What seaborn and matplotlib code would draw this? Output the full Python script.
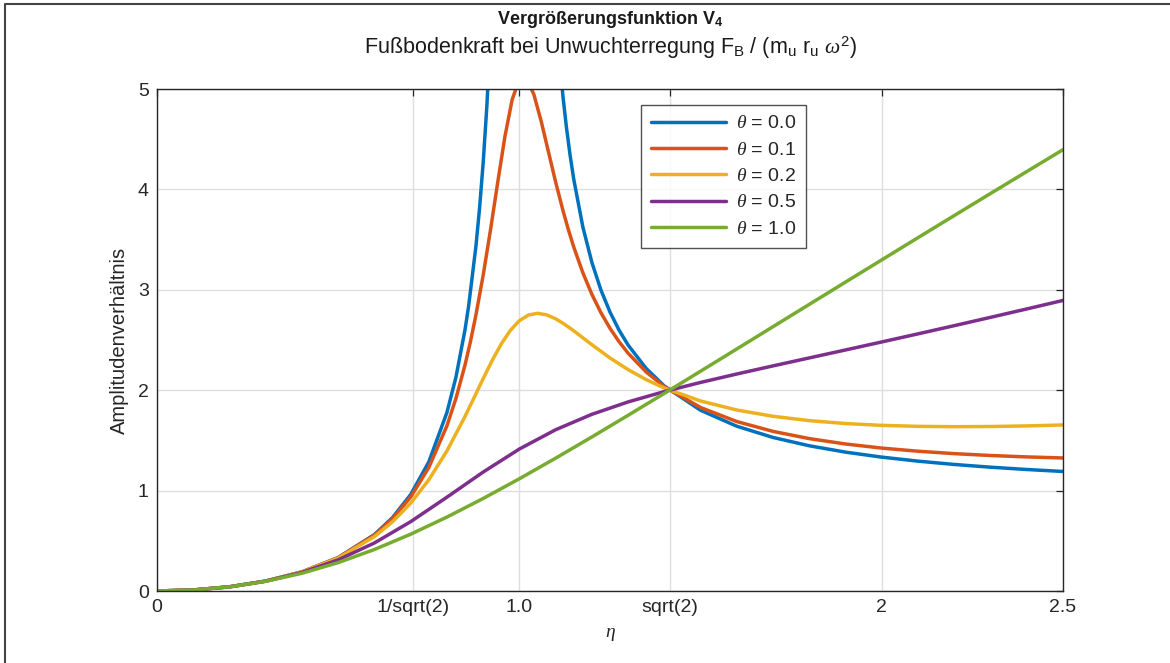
import matplotlib
matplotlib.use("Agg")
import matplotlib.pyplot as plt
import seaborn as sns
import numpy as np
from matplotlib.lines import Line2D

# ---- data ----
eta_a = [0, 0.1, 0.2, 0.3, 0.4, 0.5, 0.6, 0.65, 0.7, 0.75, 0.8, 0.825, 0.85, 0.86, 0.88, 0.89,
         0.9, 0.91, 0.92, 0.94,
         1.06, 1.08, 1.1, 1.12, 1.13, 1.14, 1.15, 1.175, 1.2, 1.225, 1.25, 1.275, 1.3, 1.35,
         1.4, 1.5, 1.6, 1.7, 1.8, 1.9, 2.0, 2.1, 2.2, 2.3, 2.4, 2.5]
v_00 = [0, 0.0101, 0.0417, 0.0989, 0.1905, 0.3333, 0.5625, 0.7316, 0.9608, 1.2857, 1.7778,
        2.1311, 2.6036, 2.8402, 3.4326, 3.8100, 4.2632, 4.8173, 5.5104, 7.591,
        9.09, 7.010, 5.762, 4.931, 4.6114, 4.3378, 4.101, 3.6273, 3.2727, 2.9975, 2.7778,
        2.5984, 2.4493, 2.2158, 2.0417, 1.8, 1.641, 1.5291, 1.4464, 1.3831, 1.3333, 1.2933,
        1.2604, 1.2331, 1.2101, 1.1905]

eta_b = [0, 0.1, 0.2, 0.3, 0.4, 0.5, 0.6, 0.65, 0.7, 0.75, 0.8, 0.825, 0.85, 0.865, 0.88, 0.9,
         0.92, 0.94, 0.96, 0.98, 1.0, 1.02, 1.04, 1.06, 1.08, 1.1, 1.12, 1.135, 1.15, 1.175,
         1.2, 1.225, 1.25, 1.275, 1.3, 1.35, 1.4, 1.5, 1.6, 1.7, 1.8, 1.9, 2.0, 2.1, 2.2, 2.3,
         2.4, 2.5]
v_01 = [0, 0.0101, 0.0417, 0.0989, 0.1902, 0.3321, 0.5568, 0.7197, 0.9356, 1.2298, 1.6452,
        1.9190, 2.2520, 2.4857, 2.7481, 3.1446, 3.5906, 4.0661, 4.5250, 4.8944, 5.0990,
        5.1059, 4.9445, 4.6804, 4.3765, 4.0736, 3.7924, 3.6006, 3.4258, 3.1704, 2.9547,
        2.7720, 2.6165, 2.4832, 2.3682, 2.1807, 2.0354, 1.8274, 1.6878, 1.5896, 1.5178,
        1.4642, 1.4234, 1.3922, 1.3681, 1.3496, 1.3355, 1.3250]

eta_c = [0, 0.1, 0.2, 0.3, 0.4, 0.5, 0.6, 0.65, 0.7, 0.75, 0.8, 0.85, 0.875, 0.9, 0.925, 0.95,
         0.975, 1.0, 1.025, 1.05, 1.075, 1.1, 1.125, 1.15, 1.2, 1.25, 1.3, 1.35, 1.4, 1.5,
         1.6, 1.7, 1.8, 1.9, 2.0, 2.1, 2.2, 2.3, 2.4, 2.5]
v_02 = [0, 0.0101, 0.0417, 0.0988, 0.1895, 0.3285, 0.5416, 0.6893, 0.8746, 1.1071, 1.3951,
        1.7388, 1.9257, 2.1149, 2.2970, 2.4610, 2.5956, 2.6926, 2.7486, 2.7659, 2.7508,
        2.7114, 2.6560, 2.5912, 2.4531, 2.3212, 2.2047, 2.1051, 2.0213, 1.8924, 1.8025,
        1.7400, 1.6968, 1.6680, 1.6498, 1.6400, 1.6365, 1.6383, 1.6443, 1.6538]

eta_d = [0, 0.1, 0.2, 0.3, 0.4, 0.5, 0.6, 0.7, 0.8, 0.9, 1.0, 1.1, 1.2, 1.3, 1.4, 1.5, 1.6,
         1.7, 1.8, 1.9, 2.0, 2.1, 2.2, 2.3, 2.4, 2.5]
v_05 = [0, 0.0101, 0.0416, 0.0981, 0.1852, 0.3101, 0.4786, 0.6906, 0.9343, 1.1847, 1.4142,
        1.6062, 1.7599, 1.8833, 1.9865, 2.0774, 2.1615, 2.2423, 2.3217, 2.4009, 2.4807,
        2.5613, 2.6429, 2.7256, 2.8093, 2.8941]
v_10 = [0, 0.0101, 0.0414, 0.0963, 0.1766, 0.2828, 0.4135, 0.5658, 0.7363, 0.9215, 1.1180,
        1.3231, 1.5344, 1.7501, 1.9687, 2.1893, 2.4109, 2.6330, 2.8551, 3.0770, 3.2985,
        3.5194, 3.7396, 3.9591, 4.1778, 4.3957]

series_labels = [r"$\theta$ = 0.0", r"$\theta$ = 0.1", r"$\theta$ = 0.2",
                 r"$\theta$ = 0.5", r"$\theta$ = 1.0"]
series_eta = [eta_a, eta_b, eta_c, eta_d, eta_d]
series_v = [v_00, v_01, v_02, v_05, v_10]
colors = ["#0072BD", "#D95319", "#EDB120", "#7E2F8E", "#77AC30"]

xtick_vals = [0, 1 / np.sqrt(2), 1.0, np.sqrt(2), 2, 2.5]
xtick_labels = ["0", "1/sqrt(2)", "1.0", "sqrt(2)", "2", "2.5"]
ytick_vals = [0, 1, 2, 3, 4, 5]

# ---- style ----
sns.set_theme(style="white")
plt.rcParams["font.family"] = ["Liberation Sans", "DejaVu Sans"]
plt.rcParams["mathtext.fontset"] = "custom"
plt.rcParams["mathtext.rm"] = "Liberation Sans"
plt.rcParams["mathtext.it"] = "Liberation Serif:italic"
plt.rcParams["mathtext.bf"] = "Liberation Sans:bold"

fig = plt.figure(figsize=(11.7, 6.63), dpi=100)
ax = fig.add_axes([157 / 1170, 1 - 591 / 663, (1063 - 157) / 1170, (591 - 89) / 663])

for eta, v, lab, col in zip(series_eta, series_v, series_labels, colors):
    sns.lineplot(x=eta, y=v, ax=ax, color=col, linewidth=2.5, label=lab,
                 estimator=None, sort=False)

ax.set_xlim(0, 2.5)
ax.set_ylim(0, 5)
ax.set_xticks(xtick_vals)
ax.set_xticklabels(xtick_labels)
ax.set_yticks(ytick_vals)
ax.grid(True, color="#DEDEDE", linewidth=1.0)
ax.set_axisbelow(True)
ax.tick_params(axis="both", which="both", direction="in", length=5, width=0.9,
               top=True, right=True, labelsize=14, colors="#262626", pad=6)
for s in ax.spines.values():
    s.set_color("#262626")
    s.set_linewidth(1.0)
    s.set_visible(True)

ax.set_xlabel(r"$\eta$", fontsize=14, color="#262626", labelpad=7)
ax.set_ylabel("Amplitudenverhältnis", fontsize=14.5, color="#262626", labelpad=6)

leg = ax.legend(loc="upper left", bbox_to_anchor=(0.534, 0.968), fontsize=14,
                frameon=True, fancybox=False, edgecolor="#262626", handlelength=3.9,
                labelspacing=0.45, borderpad=0.5, handletextpad=0.5, borderaxespad=0)
leg.get_frame().set_linewidth(1.0)

fig.text(610 / 1170, 1 - 20 / 663, r"Vergrößerungsfunktion V$_\mathbf{4}$",
         ha="center", va="center", fontsize=13, fontweight="bold", color="#1a1a1a")
fig.text(610 / 1170, 1 - 48 / 663,
         r"Fußbodenkraft bei Unwuchterregung F$_\mathrm{B}$ / (m$_\mathrm{u}$ r$_\mathrm{u}$ $\omega^2$)",
         ha="center", va="center", fontsize=15.5, color="#1a1a1a")

# frame around the figure (left and top edges visible)
fig.add_artist(Line2D([5 / 1170, 5 / 1170, 1.0], [0.0, 1 - 4 / 663, 1 - 4 / 663],
                      transform=fig.transFigure, color="#444444", linewidth=1.5))

fig.savefig("out.png", dpi=100)
